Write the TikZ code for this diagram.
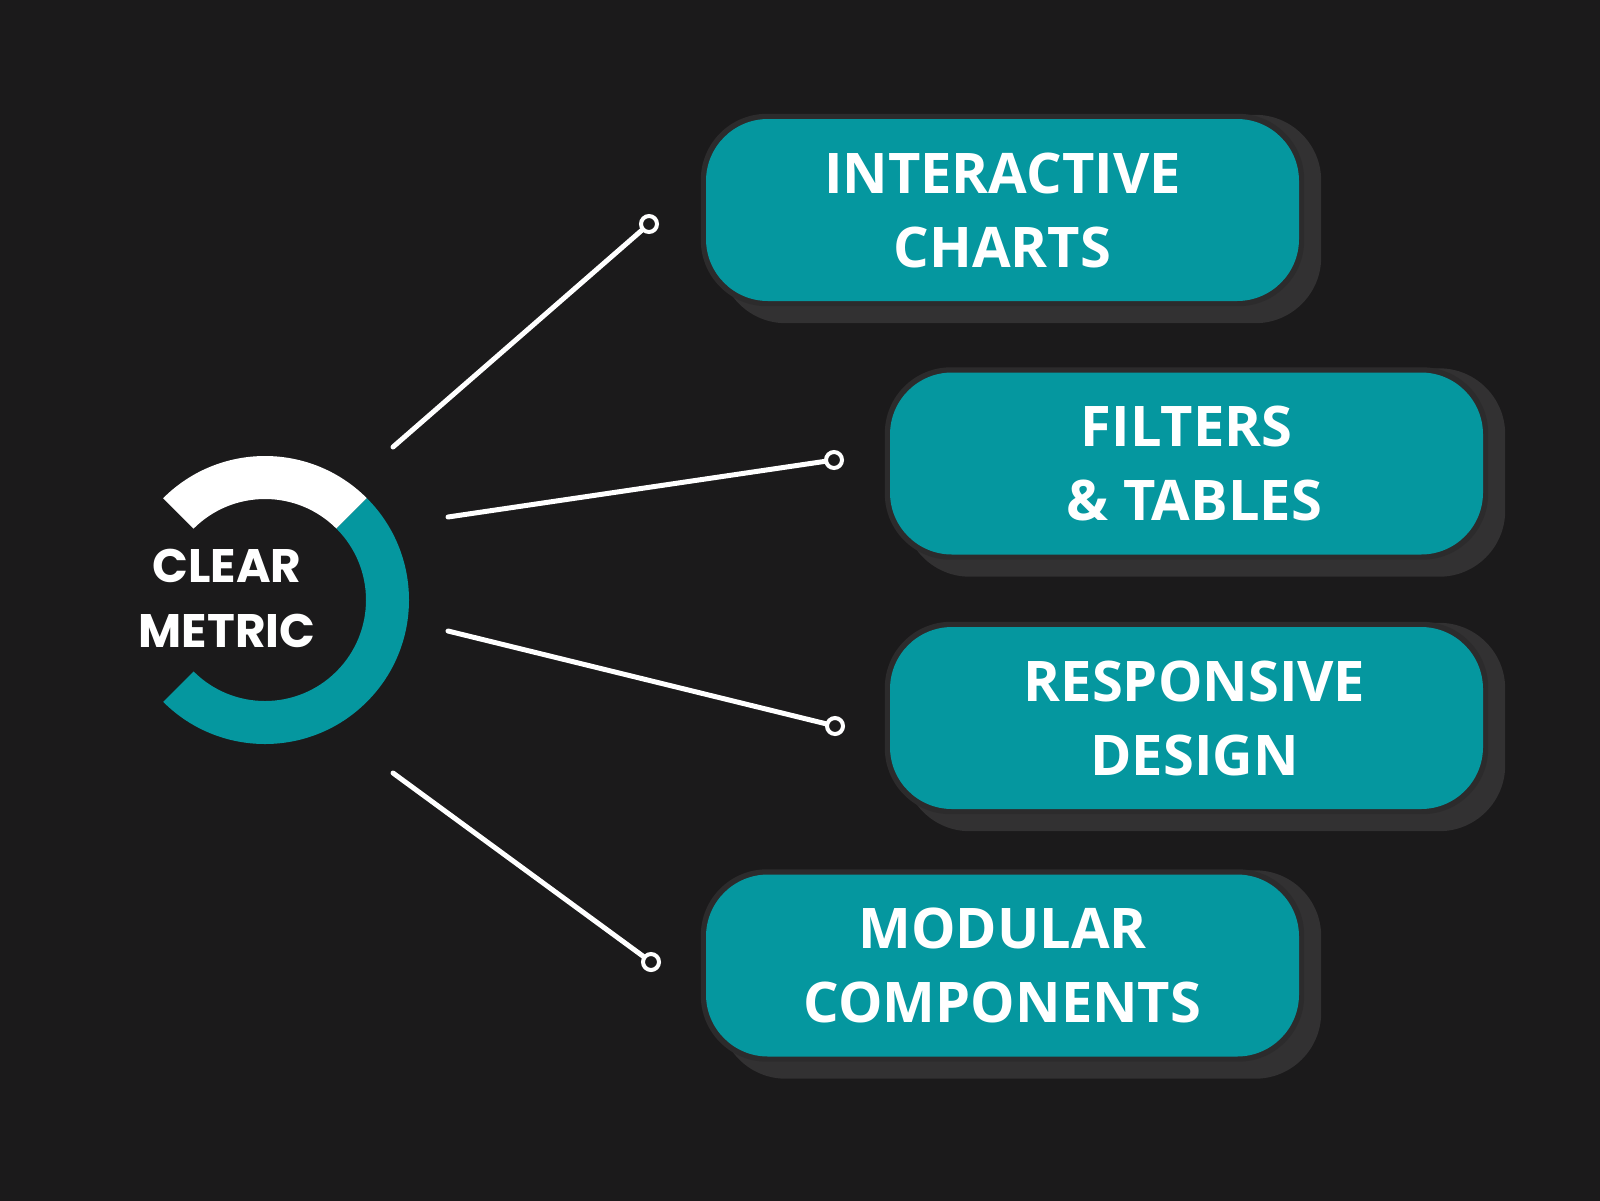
\documentclass[tikz,border=0pt]{standalone}
\usepackage{fontspec}
\setmainfont{Open Sans}
\newfontfamily\ringfont{Poppins}
\definecolor{bg}{HTML}{1B1A1B}
\definecolor{teal0}{HTML}{05979F}
\definecolor{shadowgray}{HTML}{323132}
\definecolor{rimgray}{HTML}{2C2B2C}
\tikzset{
  box/.style={fill=teal0, rounded corners=62pt, minimum width=593pt, minimum height=182pt,
    inner sep=0pt, text=white, align=center, font=\fontsize{56}{74}\selectfont\bfseries},
  conn/.style={draw=white, line width=5pt, line cap=round},
  dot/.style={circle, draw=white, line width=4pt, fill=bg, inner sep=0pt, minimum size=16pt},
  ringtext/.style={text=white, align=center, font=\ringfont\fontsize{47}{65}\selectfont\bfseries}
}
\newcommand{\boxshadow}[1]{%
  \fill[shadowgray, rounded corners=66pt] ([shift={(14pt,-22pt)}]#1.south west) rectangle ([shift={(22pt,4pt)}]#1.north east);
  \fill[rimgray, rounded corners=66pt] ([shift={(-5pt,-5pt)}]#1.south west) rectangle ([shift={(5pt,5pt)}]#1.north east);
}
\begin{document}
\begin{tikzpicture}[x=1pt,y=1pt]
\useasboundingbox (0,0) rectangle (1600,-1200);
\fill[bg] (-10,10) rectangle (1610,-1210);

% ring
\fill[white] ({265+144*cos(45)},{-600+144*sin(45)}) arc[start angle=45,end angle=135,radius=144pt]
  -- ({265+101*cos(135)},{-600+101*sin(135)}) arc[start angle=135,end angle=45,radius=101pt] -- cycle;
\fill[teal0] ({265+144*cos(45)},{-600+144*sin(45)}) arc[start angle=45,end angle=-135,radius=144pt]
  -- ({265+101*cos(-135)},{-600+101*sin(-135)}) arc[start angle=-135,end angle=45,radius=101pt] -- cycle;
\node[ringtext] (hub) at (227,-598) {CLEAR\\METRIC};

% boxes (positions only)
\path (1002.5,-210) coordinate (p1) (1186.5,-463.5) coordinate (p2)
      (1186.5,-718) coordinate (p3) (1002.5,-965.5) coordinate (p4);
\path node[box, opacity=0] (g1) at (p1) {} node[box, opacity=0] (g2) at (p2) {}
      node[box, opacity=0] (g3) at (p3) {} node[box, opacity=0] (g4) at (p4) {};
\boxshadow{g1}\boxshadow{g2}\boxshadow{g3}\boxshadow{g4}
\node[box] (b1) at (p1) {INTERACTIVE\\CHARTS};
\node[box] (b2) at (p2) {FILTERS\\\hspace*{16pt}\& TABLES};
\node[box] (b3) at (p3) {\hspace*{16pt}RESPONSIVE\\\hspace*{16pt}DESIGN};
\node[box] (b4) at (p4) {MODULAR\\COMPONENTS};

% connectors
\coordinate (s1) at (393,-447);
\coordinate (s2) at (448,-517);
\coordinate (s3) at (448,-631);
\coordinate (s4) at (393,-773);
\node[dot] (d1) at (649,-224) {};
\node[dot] (d2) at (834,-460) {};
\node[dot] (d3) at (835,-726) {};
\node[dot] (d4) at (651,-962) {};
\draw[conn] (s1) -- (d1);
\draw[conn] (s2) -- (d2);
\draw[conn] (s3) -- (d3);
\draw[conn] (s4) -- (d4);
\end{tikzpicture}
\end{document}
